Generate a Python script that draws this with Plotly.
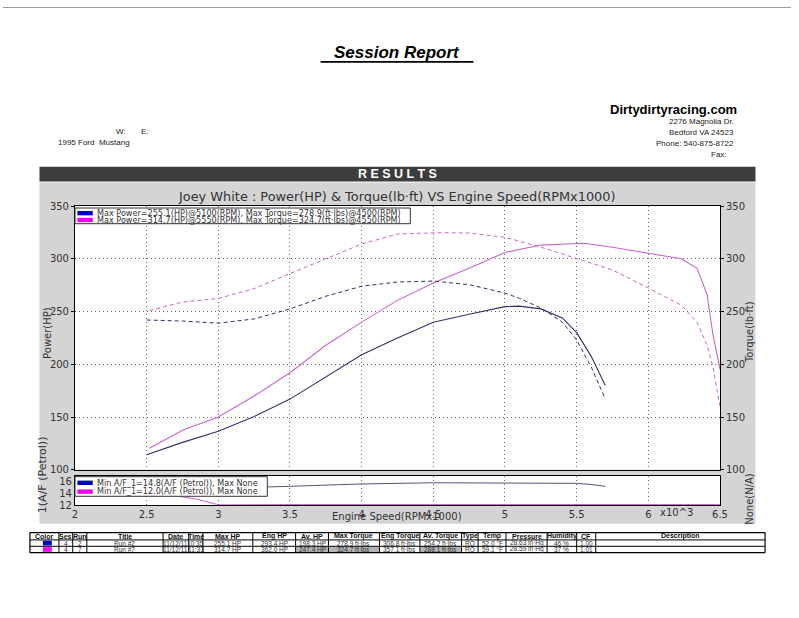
import plotly.graph_objects as go

# ---------------- data ----------------
rpm_run2 = [2.5, 2.75, 3.0, 3.25, 3.5, 3.75, 4.0, 4.25, 4.5, 4.75, 5.0, 5.1, 5.25, 5.4, 5.5, 5.6, 5.7]
hp_run2 = [114.3, 126.0, 136.6, 150.5, 167.0, 188.0, 209.0, 225.0, 239.8, 247.5, 254.7, 255.1, 252.5, 244.0, 230.0, 208.0, 180.0]
tq_run2 = [242.0, 241.0, 239.0, 243.0, 252.5, 264.5, 274.0, 278.0, 278.9, 275.5, 267.5, 262.5, 253.5, 240.0, 223.0, 198.0, 167.0]

rpm_run7 = [2.52, 2.75, 3.0, 3.25, 3.5, 3.75, 4.0, 4.25, 4.5, 4.55, 4.75, 5.0, 5.25, 5.55, 5.75, 6.0, 6.23, 6.34, 6.41, 6.45, 6.5]
hp_run7 = [120.5, 137.5, 150.0, 170.0, 192.0, 218.0, 240.0, 260.6, 277.0, 280.0, 291.0, 306.0, 313.0, 314.7, 311.0, 305.0, 300.0, 291.0, 266.0, 229.0, 195.0]
tq_run7 = [251.0, 259.0, 262.4, 271.7, 286.0, 300.0, 314.0, 323.5, 324.5, 324.7, 324.4, 320.4, 311.0, 298.0, 289.4, 272.3, 256.0, 240.0, 218.0, 198.0, 160.0]

afr_rpm_run2 = [2.5, 3.0, 3.5, 4.0, 4.5, 5.0, 5.5, 5.6, 5.7]
afr_run2 = [14.8, 14.85, 15.2, 15.6, 15.8, 15.8, 15.7, 15.5, 15.2]
afr_rpm_run7 = [2.5, 2.7, 2.85, 3.0, 3.5, 4.0, 4.5, 5.0, 5.5, 6.0, 6.5]
afr_run7 = [14.2, 13.6, 13.0, 12.05, 12.1, 12.1, 12.1, 12.1, 12.1, 12.1, 12.1]

x_ticks = [2, 2.5, 3, 3.5, 4, 4.5, 5, 5.5, 6, 6.5]
y_ticks = [100, 150, 200, 250, 300, 350]
afr_ticks = [12, 14, 16]
afr_grid = [13, 14, 15, 16]

legend_main = ["Max Power=255.1(HP)@5100(RPM), Max Torque=278.9(ft·lbs)@4500(RPM)",
               "Max Power=314.7(HP)@5550(RPM), Max Torque=324.7(ft·lbs)@4550(RPM)"]
legend_afr = ["Min A/F_1=14.8(A/F (Petrol)), Max None",
              "Min A/F_1=12.0(A/F (Petrol)), Max None"]

# table
headers = ["Color", "Ses", "Run", "Title", "Date", "Time", "Max HP", "Eng HP", "Av. HP",
           "Max Torque", "Eng Torque", "Av. Torque", "Type", "Temp", "Pressure", "Humidity", "CF", "Description"]
run_colors = ["#0000c8", "#ff00ff"]
sessions = [4, 4]
runs = [2, 7]
titles = ["Run #2", "Run #7"]
dates = ["11/12/11", "11/12/11"]
times = ["10:35", "11:33"]
max_hp = [255.1, 314.7]
eng_hp = [293.4, 362.0]
av_hp = [198.3, 247.4]
max_tq = [278.9, 324.7]
eng_tq = [306.8, 357.1]
av_tq = [254.2, 288.1]
types = ["RO", "RO"]
temps = [52.0, 59.1]
pressures = [28.63, 28.59]
humidity = [46, 37]
cf = [1.00, 1.01]
descriptions = ["", ""]
highlight = [[], ["Av. HP", "Max Torque", "Av. Torque"]]

# ---------------- layout helpers ----------------
W, H = 799, 618
def X(p):
    return p / W
def Y(p):
    return 1 - p / H

LINE2 = "#30306a"
LINE7 = "#c866c8"
GRID = "#666666"
TXT = "#333333"
FONT = "DejaVu Sans"
AR = "Liberation Sans"

fig = go.Figure()
fig.add_trace(go.Scatter(x=rpm_run2, y=hp_run2, mode="lines", line=dict(color=LINE2, width=1.1), xaxis="x", yaxis="y"))
fig.add_trace(go.Scatter(x=rpm_run2, y=tq_run2, mode="lines", line=dict(color=LINE2, width=1, dash="4px,3px"), xaxis="x", yaxis="y2"))
fig.add_trace(go.Scatter(x=rpm_run7, y=hp_run7, mode="lines", line=dict(color=LINE7, width=1.1), xaxis="x", yaxis="y"))
fig.add_trace(go.Scatter(x=rpm_run7, y=tq_run7, mode="lines", line=dict(color=LINE7, width=1, dash="4px,3px"), xaxis="x", yaxis="y2"))
fig.add_trace(go.Scatter(x=afr_rpm_run2, y=afr_run2, mode="lines", line=dict(color="#55557a", width=1), xaxis="x2", yaxis="y3"))
fig.add_trace(go.Scatter(x=afr_rpm_run7, y=afr_run7, mode="lines", line=dict(color=LINE7, width=1), xaxis="x2", yaxis="y3"))

axis_common = dict(showline=True, linecolor="black", linewidth=1, mirror=True, zeroline=False,
                   gridcolor=GRID, griddash="1px,3px", gridwidth=1,
                   tickfont=dict(family=FONT, size=10, color=TXT))

shapes = []
annotations = []

def rect(x0, y0, x1, y1, fill, line=None, lw=0, layer="below"):
    shapes.append(dict(type="rect", xref="paper", yref="paper", x0=X(x0), x1=X(x1), y0=Y(y1), y1=Y(y0),
                       fillcolor=fill, line=dict(color=line or fill, width=lw), layer=layer))

def hline(x0, x1, y, color="black", w=1, layer="above"):
    shapes.append(dict(type="line", xref="paper", yref="paper", x0=X(x0), x1=X(x1), y0=Y(y), y1=Y(y),
                       line=dict(color=color, width=w), layer=layer))

def vline(x, y0, y1, color="black", w=1, layer="above"):
    shapes.append(dict(type="line", xref="paper", yref="paper", x0=X(x), x1=X(x), y0=Y(y0), y1=Y(y1),
                       line=dict(color=color, width=w), layer=layer))

def text(x, y, s, size=8, family=AR, color="#222", xanchor="center", yanchor="middle", angle=0):
    annotations.append(dict(x=X(x), y=Y(y), xref="paper", yref="paper", text=s, showarrow=False,
                            xanchor=xanchor, yanchor=yanchor, textangle=angle, borderpad=0,
                            font=dict(family=family, size=size, color=color)))

# page top line
hline(0, 799, 1.5, color="#999999", w=1)

# header
text(400, 47, "<b><i>Session Report</i></b>", size=17, family=AR, color="black")
hline(322, 477, 57, color="black", w=1.6)
text(126, 128, "W:", size=8, xanchor="right")
text(139, 128, "E:", size=8, xanchor="left")
text(55, 139, "1995 Ford  Mustang", size=8, xanchor="left")
text(745, 106, "<b>Dirtydirtyracing.com</b>", size=13, color="black", xanchor="right")
for i, s in enumerate(["2276 Magnolia Dr.", "Bedford VA 24523", "Phone: 540-875-8722", "Fax:"]):
    text(742 if i < 3 else 735, 118 + 11 * i, s, size=8, xanchor="right")

# results bar and chart background
rect(37, 164, 763, 179, "#3d3d3d")
text(400, 171.5, "<b>R E S U L T S</b>", size=12.5, color="white")
rect(37, 180, 763, 528, "#d4d4d4")
rect(73, 204, 727, 473, "white")
rect(73, 479, 727, 509, "white")

# chart text
text(400, 194, "Joey White : Power(HP) &amp; Torque(lb·ft) VS Engine Speed(RPMx1000)", size=12.9, family=FONT, color=TXT)
text(45, 333, "Power(HP)", size=10, family=FONT, color=TXT, angle=-90)
text(757, 333, "Torque(lb·ft)", size=10, family=FONT, color=TXT, angle=-90)
text(40, 478, "1(A/F (Petrol))", size=11, family=FONT, color=TXT, angle=-90)
text(757, 503, "None(N/A)", size=10, family=FONT, color=TXT, angle=-90)
text(400, 521, "Engine Speed(RPMx1000)", size=10, family=FONT, color=TXT)
text(683, 517, "x10^3", size=10, family=FONT, color=TXT)

# custom legends
rect(73, 206, 413, 222, "white", line="#333333", lw=1, layer="above")
rect(75.5, 209, 91, 213.5, "#0000c8", layer="above")
rect(75.5, 216, 91, 220.5, "#ee00ee", layer="above")
for i, s in enumerate(legend_main):
    text(94, 211 + 7.5 * i, s, size=8.1, family=FONT, color=TXT, xanchor="left")
rect(73, 480, 268, 500, "white", line="#333333", lw=1, layer="above")
rect(75.5, 484, 91, 488.5, "#0000c8", layer="above")
rect(75.5, 493, 91, 497.5, "#ee00ee", layer="above")
for i, s in enumerate(legend_afr):
    text(94, 486 + 9 * i, s, size=8.1, family=FONT, color=TXT, xanchor="left")

# table
col_edges = [27.3, 56.7, 70.7, 85, 162.3, 188.3, 202.7, 253.3, 296.7, 330, 381.7, 422.7, 465, 481.7,
             510, 551.7, 581.7, 601, 772.7]
row_edges = [537, 544.5, 551, 557.5]
rows = []
for r in range(2):
    rows.append(["", str(sessions[r]), str(runs[r]), titles[r], dates[r], times[r],
                 f"{max_hp[r]:.1f} HP", f"{eng_hp[r]:.1f} HP", f"{av_hp[r]:.1f} HP",
                 f"{max_tq[r]:.1f} ft·lbs", f"{eng_tq[r]:.1f} ft·lbs", f"{av_tq[r]:.1f} ft·lbs",
                 types[r], f"{temps[r]:.1f} °F", f"{pressures[r]:.2f} in·Hg", f"{humidity[r]} %",
                 f"{cf[r]:.2f}", descriptions[r]])
for r in range(2):
    for c, h in enumerate(headers):
        if h in highlight[r]:
            rect(col_edges[c] + 0.5, row_edges[r + 1], col_edges[c + 1] - 0.5, row_edges[r + 2], "#b4b4b4", layer="above")
    rect(40.5, row_edges[r + 1] + 0.8, 49.5, row_edges[r + 2] - 0.8, run_colors[r], layer="above")
for y in row_edges:
    hline(col_edges[0], col_edges[-1], y, w=1.2 if y in (row_edges[0], row_edges[-1]) else 1)
for i, x in enumerate(col_edges):
    vline(x, row_edges[0], row_edges[-1], w=1.2 if i in (0, len(col_edges) - 1) else 1)
for c, h in enumerate(headers):
    cx = (col_edges[c] + col_edges[c + 1]) / 2
    text(cx, (row_edges[0] + row_edges[1]) / 2, "<b>" + h + "</b>", size=7, color="#111")
    for r in range(2):
        text(cx, (row_edges[r + 1] + row_edges[r + 2]) / 2, rows[r][c], size=6.5, color="#333")

fig.update_layout(
    width=W, height=H, autosize=False, margin=dict(l=0, r=0, t=0, b=0),
    paper_bgcolor="white", plot_bgcolor="rgba(0,0,0,0)", showlegend=False,
    xaxis=dict(domain=[X(73), X(727)], range=[2, 6.5], anchor="y", tickvals=x_ticks,
               showticklabels=False, ticks="", showgrid=True, **axis_common),
    yaxis=dict(domain=[Y(473), Y(204)], range=[100, 350], anchor="x", tickvals=y_ticks,
               ticks="outside", ticklen=3, tickcolor="black", showgrid=True, **axis_common),
    yaxis2=dict(overlaying="y", side="right", range=[100, 350], anchor="x", tickvals=y_ticks,
                ticks="outside", ticklen=3, tickcolor="black", showgrid=False, **axis_common),
    xaxis2=dict(domain=[X(73), X(727)], range=[2, 6.5], anchor="y3", tickvals=x_ticks,
                ticks="", showgrid=True, **axis_common),
    yaxis3=dict(domain=[Y(509), Y(479)], range=[12, 17], anchor="x2", tickvals=afr_ticks,
                ticks="", showgrid=False, **axis_common),
    yaxis4=dict(domain=[Y(509), Y(479)], range=[12, 17], anchor="x2", overlaying="y3",
                tickvals=afr_grid, showticklabels=False, ticks="", showgrid=True, **axis_common),
    shapes=shapes, annotations=annotations,
)

fig.write_html("out.html", config={"displayModeBar": False},
               post_script="document.body.style.margin='0px';document.body.style.overflow='hidden';")
